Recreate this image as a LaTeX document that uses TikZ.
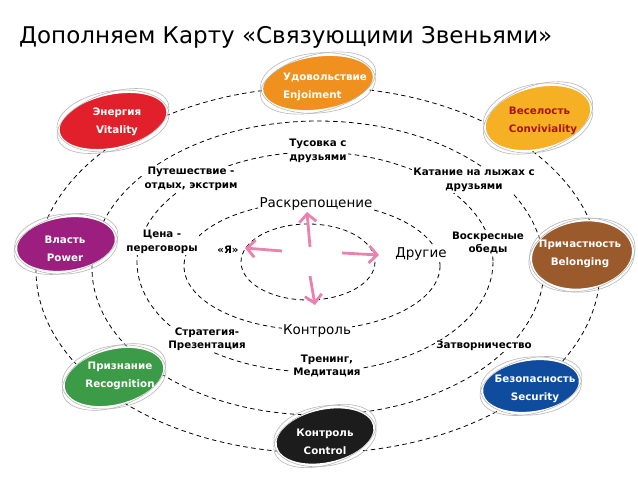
\documentclass[tikz,border=0pt]{standalone}
\usepackage{fontspec}
\setmainfont{DejaVu Sans}
\usetikzlibrary{shapes.geometric,arrows.meta}
\definecolor{cOrange}{HTML}{F0901E}
\definecolor{cRed}{HTML}{E1202B}
\definecolor{cYellow}{HTML}{F5B024}
\definecolor{cYellowTxt}{HTML}{A8141C}
\definecolor{cPurple}{HTML}{9C1F7F}
\definecolor{cBrown}{HTML}{9A5A2C}
\definecolor{cGreen}{HTML}{3C9B46}
\definecolor{cBlue}{HTML}{0F4C9D}
\definecolor{cBlack}{HTML}{1C1C1C}
\definecolor{cPink}{HTML}{EC80AE}
\tikzset{
  ring/.style={draw=black, line width=0.8pt, dash pattern=on 4.5pt off 3.5pt},
  blobfill/.style={ellipse, draw=white, line width=1.5pt, inner sep=0pt},
  sketchline/.style={draw=black!28, line width=0.6pt},
  ntext/.style={font=\fontsize{10.3}{18}\selectfont\bfseries, align=center, inner sep=0pt},
  lab/.style={font=\fontsize{10.3}{13.5}\selectfont\bfseries, align=center, fill=white, inner sep=1.5pt},
  biglab/.style={font=\fontsize{13.5}{16}\selectfont, fill=white, inner sep=1.5pt},
  parrow/.style={draw=cPink, line width=2.8pt, -{Straight Barb[length=8pt,width=17pt,line width=2.8pt]}},
}
\newcommand\myblob[6]{%
  \node[blobfill, fill=#6, minimum width=#3pt, minimum height=#4pt, rotate=#5] (#1) at #2 {};
  \draw[sketchline, rotate around={#5+6:#2}] #2 ellipse [x radius=#3/2+3, y radius=#4/2+1.5];
  \draw[sketchline, rotate around={#5-3:#2}] #2 ellipse [x radius=#3/2+1.5, y radius=#4/2+3];
}
\begin{document}
\begin{tikzpicture}[x=1pt,y=-1pt]
\useasboundingbox (0,0) rectangle (638,479);
\fill[white] (0,0) rectangle (638,479);
% title
\node[anchor=base west, inner sep=0pt, font=\fontsize{23}{26}\selectfont] (title) at (19,43) {Дополняем Карту «Связующими Звеньями»};
% rings
\draw[ring] (318,270) ellipse [x radius=282, y radius=183];
\draw[ring] (318,268) ellipse [x radius=226, y radius=147];
\draw[ring] (315,262) ellipse [x radius=178, y radius=110];
\draw[ring] (312,266) ellipse [x radius=128, y radius=64];
\draw[ring] (308,262) ellipse [x radius=67, y radius=38];
% arrows
\coordinate (uS) at (310,247); \coordinate (uT) at (307,212);
\coordinate (lS) at (282,251); \coordinate (lT) at (245,248);
\coordinate (rS) at (342,253); \coordinate (rT) at (379,255);
\coordinate (dS) at (310,276); \coordinate (dT) at (315,305);
\draw[parrow] (uS) -- (uT);
\draw[parrow] (lS) -- (lT);
\draw[parrow] (rS) -- (rT);
\draw[parrow] (dS) -- (dT);
% labels
\node[lab] (tus) at (318,151) {Тусовка с\\друзьями};
\node[lab] (put) at (191,179) {Путешествие -\\отдых, экстрим};
\node[lab] (kat) at (474,180) {Катание на лыжах с\\друзьями};
\node[lab] (cen) at (162,242) {Цена -\\переговоры};
\node[lab, fill=none] (ya) at (228,250) {«Я»};
\node[biglab] (rask) at (316,204) {Раскрепощение};
\node[biglab] (drug) at (421,254) {Другие};
\node[lab] (vos) at (488,243) {Воскресные\\обеды};
\node[lab] (str) at (207,339) {Стратегия-\\Презентация};
\node[biglab] (kon) at (317,331) {Контроль};
\node[lab] (tre) at (327,366) {Тренинг,\\Медитация};
\node[lab] (zat) at (484,346) {Затворничество};
% coloured blobs
\myblob{bUd}{(318,83)}{112}{54}{8}{cOrange}
\myblob{bEn}{(113,121)}{110}{54}{12}{cRed}
\myblob{bVe}{(538,118)}{108}{62}{14}{cYellow}
\myblob{bVl}{(66,244)}{100}{54}{8}{cPurple}
\myblob{bPr}{(582,255)}{102}{68}{8}{cBrown}
\myblob{bPz}{(114,377)}{102}{56}{14}{cGreen}
\myblob{bBz}{(531,386)}{98}{52}{8}{cBlue}
\myblob{bKo}{(325,436)}{100}{54}{12}{cBlack}
% blob texts
\node[ntext, text=white, align=left] (tUd) at (325,87) {Удовольствие\\Enjoiment};
\node[ntext, text=white] (tEn) at (117,122) {Энергия\\Vitality};
\node[ntext, text=cYellowTxt, align=left] (tVe) at (543,121) {Веселость\\Conviviality};
\node[ntext, text=white] (tVl) at (65,249) {Власть\\Power};
\node[ntext, text=white] (tPr) at (580,254) {Причастность\\Belonging};
\node[ntext, text=white] (tPz) at (120,376) {Признание\\Recognition};
\node[ntext, text=white] (tBz) at (535,389) {Безопасность\\Security};
\node[ntext, text=white] (tKo) at (325,442) {Контроль\\Control};
\end{tikzpicture}
\end{document}
